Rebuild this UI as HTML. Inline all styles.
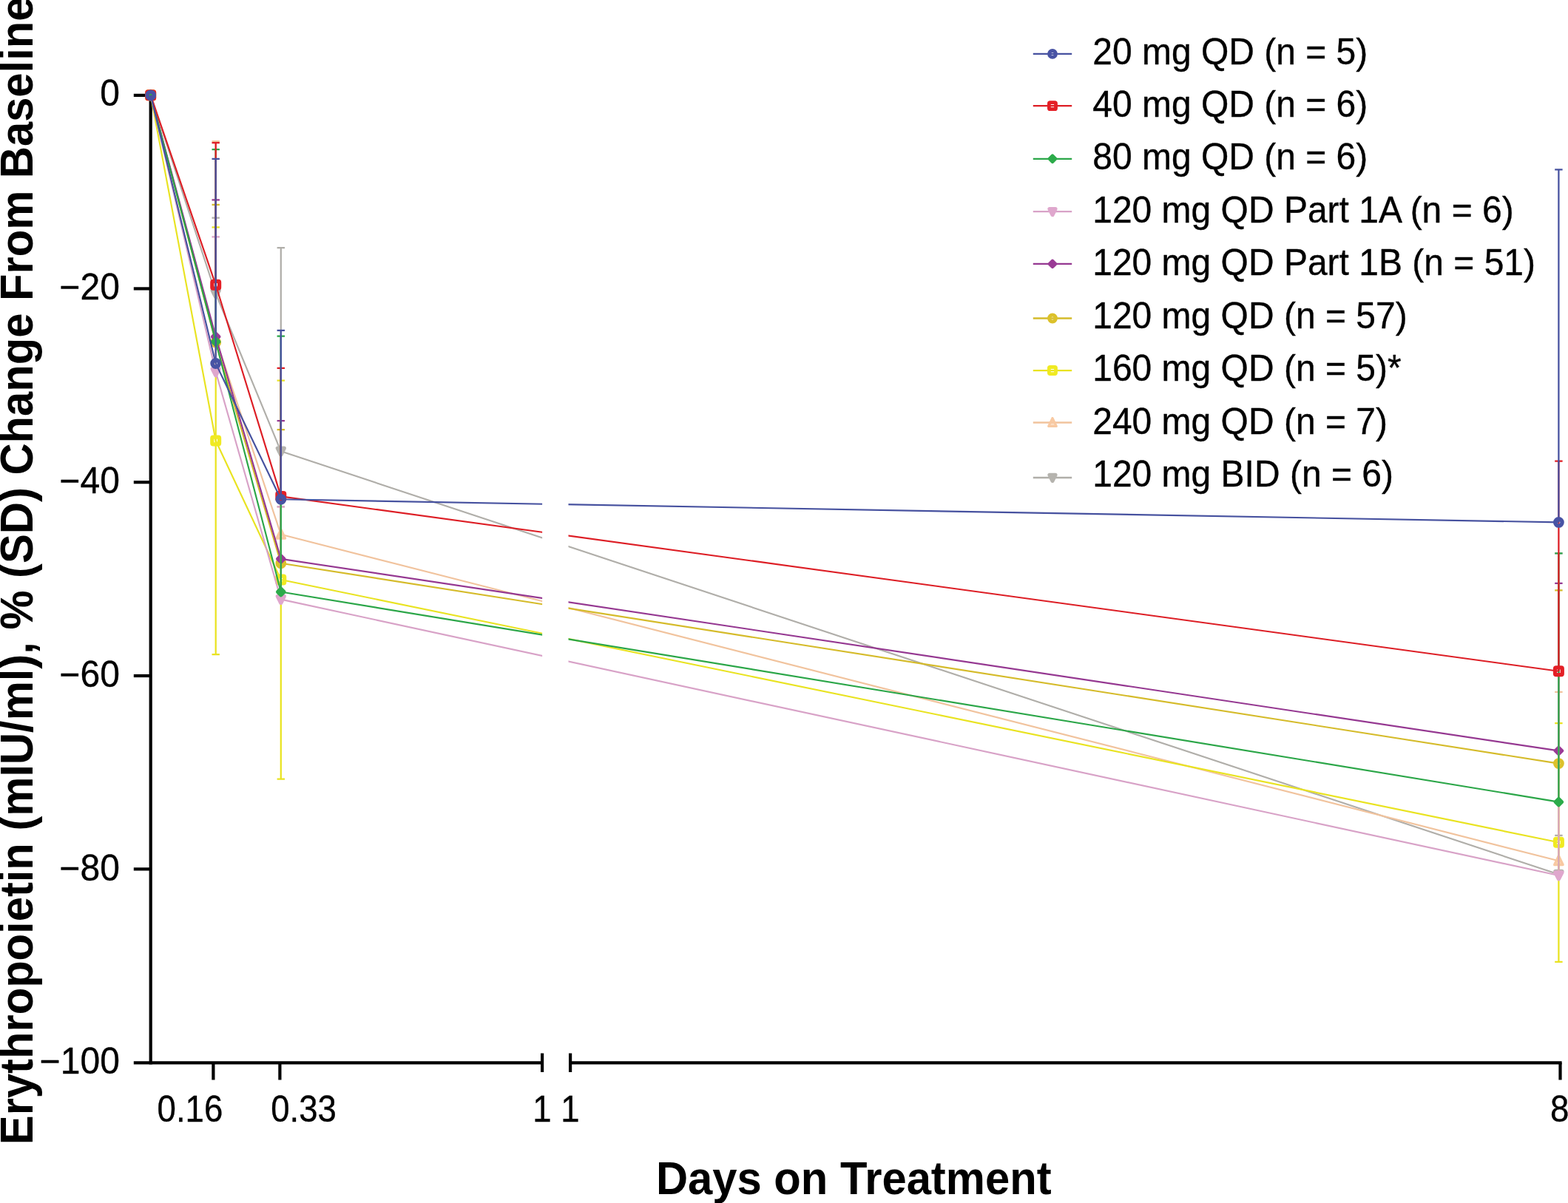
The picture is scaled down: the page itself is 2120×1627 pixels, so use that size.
<!DOCTYPE html>
<html lang="en"><head><meta charset="utf-8"><title>Erythropoietin % change from baseline by days on treatment</title>
<style>html,body{margin:0;padding:0;background:#fff}body{width:2120px;height:1627px;overflow:hidden}svg{display:block}text{font-family:"Liberation Sans",sans-serif;fill:#000}.t{font-size:48px;stroke:#000;stroke-width:.35px;stroke-linejoin:round}.b{font-size:60px;font-weight:bold}</style>
</head><body>
<svg xmlns="http://www.w3.org/2000/svg" width="2120" height="1627" viewBox="0 0 2120 1627">
<rect width="2120" height="1627" fill="#fff"/>
<g stroke="#000" stroke-width="4.2" fill="none">
<path d="M203.7 126.7V1439.4"/>
<path d="M180.8 128.9H203.7"/>
<path d="M180.8 390.4H203.7"/>
<path d="M180.8 652.2H203.7"/>
<path d="M180.8 914H203.7"/>
<path d="M180.8 1175.4H203.7"/>
<path d="M180.8 1437.3H733.1M771.1 1437.3H2111.6"/>
<path d="M288.4 1437.3V1460.5M378.4 1437.3V1460.5M2109.5 1437.3V1460.5"/>
<path d="M733.1 1424.4V1449.9M771.1 1424.4V1449.9"/>
</g>
<g fill="none" stroke-linecap="butt">
<g stroke="#b0aea9" stroke-width="2.15"><path d="M203.7 128.8L291.7 397L379.8 610.3L2107.4 1182.5" stroke-linejoin="round"/><path d="M291.7 294.7V397M286.5 294.7H296.9" stroke-width="2.25"/><path d="M379.8 335.1V610.3M374.6 335.1H385" stroke-width="2.25"/><path d="M2107.4 1129.8V1182.5M2102.2 1129.8H2112.6" stroke-width="2.25"/></g><path d="M199.4 124.8L208 124.8L203.7 133.4Z" fill="#b5b3ae" stroke="#b5b3ae" stroke-width="5.6" stroke-linejoin="round"/><path d="M287.4 393L296 393L291.7 401.6Z" fill="#b5b3ae" stroke="#b5b3ae" stroke-width="5.6" stroke-linejoin="round"/><path d="M375.5 606.3L384.1 606.3L379.8 614.9Z" fill="#b5b3ae" stroke="#b5b3ae" stroke-width="5.6" stroke-linejoin="round"/><path d="M2103.1 1178.5L2111.7 1178.5L2107.4 1187.1Z" fill="#b5b3ae" stroke="#b5b3ae" stroke-width="5.6" stroke-linejoin="round"/>
<g stroke="#f1c39d" stroke-width="2.15"><path d="M203.7 128.8L291.7 458L379.8 722.8L2107.4 1164.3" stroke-linejoin="round"/><path d="M291.7 191.2V458M286.5 191.2H296.9" stroke-width="2.25"/><path d="M379.8 685.3V722.8M374.6 685.3H385" stroke-width="2.25"/><path d="M2107.4 935.8V1164.3M2102.2 935.8H2112.6" stroke-width="2.25"/></g><path d="M198.1 134L209.3 134L203.7 122.4Z" fill="#f8c9a2" fill-opacity="0.6" stroke="#f8c9a2" stroke-width="3.6" stroke-linejoin="round"/><path d="M286.1 463.2L297.3 463.2L291.7 451.6Z" fill="#f8c9a2" fill-opacity="0.6" stroke="#f8c9a2" stroke-width="3.6" stroke-linejoin="round"/><path d="M374.2 728L385.4 728L379.8 716.4Z" fill="#f8c9a2" fill-opacity="0.6" stroke="#f8c9a2" stroke-width="3.6" stroke-linejoin="round"/><path d="M2101.8 1169.5L2113 1169.5L2107.4 1157.9Z" fill="#f8c9a2" fill-opacity="0.6" stroke="#f8c9a2" stroke-width="3.6" stroke-linejoin="round"/>
<g stroke="#e9e321" stroke-width="2.15"><path d="M203.7 128.8L291.7 596L379.8 784L2107.4 1139.3" stroke-linejoin="round"/><path d="M291.7 307.4V885M286.5 307.4H296.9M286.5 885H296.9" stroke-width="2.25"/><path d="M379.8 514.7V1053.5M374.6 514.7H385M374.6 1053.5H385" stroke-width="2.25"/><path d="M2107.4 978V1300.8M2102.2 978H2112.6M2102.2 1300.8H2112.6" stroke-width="2.25"/></g><rect x="198.8" y="123.9" width="9.8" height="9.8" rx="1.4" fill="none" stroke="#f0ea22" stroke-width="5.2" stroke-linejoin="round"/><rect x="286.8" y="591.1" width="9.8" height="9.8" rx="1.4" fill="none" stroke="#f0ea22" stroke-width="5.2" stroke-linejoin="round"/><rect x="374.9" y="779.1" width="9.8" height="9.8" rx="1.4" fill="none" stroke="#f0ea22" stroke-width="5.2" stroke-linejoin="round"/><rect x="2102.5" y="1134.4" width="9.8" height="9.8" rx="1.4" fill="none" stroke="#f0ea22" stroke-width="5.2" stroke-linejoin="round"/>
<g stroke="#d5bb2a" stroke-width="2.15"><path d="M203.7 128.8L291.7 463L379.8 761.8L2107.4 1032.6" stroke-linejoin="round"/><path d="M291.7 276.9V463M286.5 276.9H296.9" stroke-width="2.25"/><path d="M379.8 581V761.8M374.6 581H385" stroke-width="2.25"/><path d="M2107.4 798.3V1032.6M2102.2 798.3H2112.6" stroke-width="2.25"/></g><circle cx="203.7" cy="128.8" r="4.7" fill="none" stroke="#dcc12b" stroke-width="5.4"/><circle cx="291.7" cy="463" r="4.7" fill="none" stroke="#dcc12b" stroke-width="5.4"/><circle cx="379.8" cy="761.8" r="4.7" fill="none" stroke="#dcc12b" stroke-width="5.4"/><circle cx="2107.4" cy="1032.6" r="4.7" fill="none" stroke="#dcc12b" stroke-width="5.4"/>
<g stroke="#953891" stroke-width="2.15"><path d="M203.7 128.8L291.7 455.3L379.8 755.9L2107.4 1015.4" stroke-linejoin="round"/><path d="M291.7 270.4V455.3M286.5 270.4H296.9" stroke-width="2.25"/><path d="M379.8 569.1V755.9M374.6 569.1H385" stroke-width="2.25"/><path d="M2107.4 788.9V1015.4M2102.2 788.9H2112.6" stroke-width="2.25"/></g><path d="M203.7 124.3L208.2 128.8L203.7 133.3L199.2 128.8Z" fill="#9a3a95" stroke="#9a3a95" stroke-width="4.6" stroke-linejoin="round"/><path d="M291.7 450.8L296.2 455.3L291.7 459.8L287.2 455.3Z" fill="#9a3a95" stroke="#9a3a95" stroke-width="4.6" stroke-linejoin="round"/><path d="M379.8 751.4L384.3 755.9L379.8 760.4L375.3 755.9Z" fill="#9a3a95" stroke="#9a3a95" stroke-width="4.6" stroke-linejoin="round"/><path d="M2107.4 1010.9L2111.9 1015.4L2107.4 1019.9L2102.9 1015.4Z" fill="#9a3a95" stroke="#9a3a95" stroke-width="4.6" stroke-linejoin="round"/>
<g stroke="#d8a2c7" stroke-width="2.15"><path d="M203.7 128.8L291.7 502.9L379.8 810.6L2107.4 1184" stroke-linejoin="round"/><path d="M291.7 320.4V502.9M286.5 320.4H296.9" stroke-width="2.25"/><path d="M379.8 685.3V810.6M374.6 685.3H385" stroke-width="2.25"/><path d="M2107.4 748.3V1184M2102.2 748.3H2112.6" stroke-width="2.25"/></g><path d="M199.4 124.8L208 124.8L203.7 133.4Z" fill="#dfa7cd" stroke="#dfa7cd" stroke-width="5.6" stroke-linejoin="round"/><path d="M287.4 498.9L296 498.9L291.7 507.5Z" fill="#dfa7cd" stroke="#dfa7cd" stroke-width="5.6" stroke-linejoin="round"/><path d="M375.5 806.6L384.1 806.6L379.8 815.2Z" fill="#dfa7cd" stroke="#dfa7cd" stroke-width="5.6" stroke-linejoin="round"/><path d="M2103.1 1180L2111.7 1180L2107.4 1188.6Z" fill="#dfa7cd" stroke="#dfa7cd" stroke-width="5.6" stroke-linejoin="round"/>
<g stroke="#2ba648" stroke-width="2.15"><path d="M203.7 128.8L291.7 462.1L379.8 800.5L2107.4 1084.6" stroke-linejoin="round"/><path d="M291.7 202.1V462.1M286.5 202.1H296.9" stroke-width="2.25"/><path d="M379.8 454.7V800.5M374.6 454.7H385" stroke-width="2.25"/><path d="M2107.4 748.3V1084.6M2102.2 748.3H2112.6" stroke-width="2.25"/></g><path d="M203.7 124.3L208.2 128.8L203.7 133.3L199.2 128.8Z" fill="#2cab4a" stroke="#2cab4a" stroke-width="4.6" stroke-linejoin="round"/><path d="M291.7 457.6L296.2 462.1L291.7 466.6L287.2 462.1Z" fill="#2cab4a" stroke="#2cab4a" stroke-width="4.6" stroke-linejoin="round"/><path d="M379.8 796L384.3 800.5L379.8 805L375.3 800.5Z" fill="#2cab4a" stroke="#2cab4a" stroke-width="4.6" stroke-linejoin="round"/><path d="M2107.4 1080.1L2111.9 1084.6L2107.4 1089.1L2102.9 1084.6Z" fill="#2cab4a" stroke="#2cab4a" stroke-width="4.6" stroke-linejoin="round"/>
<g stroke="#dd1e25" stroke-width="2.15"><path d="M203.7 128.8L291.7 385.3L379.8 671.4L2107.4 907.8" stroke-linejoin="round"/><path d="M291.7 193.1V385.3M286.5 193.1H296.9" stroke-width="2.25"/><path d="M379.8 497.8V671.4M374.6 497.8H385" stroke-width="2.25"/><path d="M2107.4 623.5V907.8M2102.2 623.5H2112.6" stroke-width="2.25"/></g><rect x="198.8" y="123.9" width="9.8" height="9.8" rx="1.4" fill="none" stroke="#e41f26" stroke-width="5.2" stroke-linejoin="round"/><rect x="286.8" y="380.4" width="9.8" height="9.8" rx="1.4" fill="none" stroke="#e41f26" stroke-width="5.2" stroke-linejoin="round"/><rect x="374.9" y="666.5" width="9.8" height="9.8" rx="1.4" fill="none" stroke="#e41f26" stroke-width="5.2" stroke-linejoin="round"/><rect x="2102.5" y="902.9" width="9.8" height="9.8" rx="1.4" fill="none" stroke="#e41f26" stroke-width="5.2" stroke-linejoin="round"/>
<g stroke="#46519f" stroke-width="2.15"><path d="M203.7 128.8L291.7 491.5L379.8 675.3L2107.4 706.4" stroke-linejoin="round"/><path d="M291.7 214.9V491.5M286.5 214.9H296.9" stroke-width="2.25"/><path d="M379.8 446.8V675.3M374.6 446.8H385" stroke-width="2.25"/><path d="M2107.4 229.3V706.4M2102.2 229.3H2112.6" stroke-width="2.25"/></g><circle cx="203.7" cy="128.8" r="4.7" fill="none" stroke="#4853a4" stroke-width="5.4"/><circle cx="291.7" cy="491.5" r="4.7" fill="none" stroke="#4853a4" stroke-width="5.4"/><circle cx="379.8" cy="675.3" r="4.7" fill="none" stroke="#4853a4" stroke-width="5.4"/><circle cx="2107.4" cy="706.4" r="4.7" fill="none" stroke="#4853a4" stroke-width="5.4"/>
</g>
<rect x="733.1" y="600" width="35.4" height="400" fill="#fff"/>
<text class="t" text-anchor="end" transform="translate(161.9 143.45) scale(1.0 1.027)">0</text>
<text class="t" text-anchor="end" transform="translate(161.9 404.8) scale(1.0 1.027)">−20</text>
<text class="t" text-anchor="end" transform="translate(161.9 666.7) scale(1.0 1.027)">−40</text>
<text class="t" text-anchor="end" transform="translate(161.9 929.15) scale(1.0 1.027)">−60</text>
<text class="t" text-anchor="end" transform="translate(161.9 1190.7) scale(1.0 1.027)">−80</text>
<text class="t" text-anchor="end" transform="translate(161.9 1452.2) scale(1.0 1.027)">−100</text>
<text class="t" text-anchor="middle" transform="translate(256.9 1516.9) scale(0.95 1.04)">0.16</text>
<text class="t" text-anchor="middle" transform="translate(410.5 1516.9) scale(0.95 1.04)">0.33</text>
<text class="t" text-anchor="middle" transform="translate(733 1516.9) scale(0.95 1.04)">1</text>
<text class="t" text-anchor="middle" transform="translate(771 1516.9) scale(0.95 1.04)">1</text>
<text class="t" text-anchor="middle" transform="translate(2108.6 1516.9) scale(0.95 1.04)">8</text>
<text class="b" text-anchor="middle" transform="translate(1154.2 1614.5) scale(0.996 1.034)">Days on Treatment</text>
<text class="b" transform="translate(44.3 1548.2) rotate(-90) scale(0.9955 1.035)">Erythropoietin (mIU/ml), % (SD) Change From Baseline</text>
<path d="M1396.8 72.9H1449.2" stroke="#46519f" stroke-width="2.3" fill="none"/><circle cx="1423" cy="72.9" r="4.4" fill="none" stroke="#4853a4" stroke-width="5"/>
<text class="t" transform="translate(1477.2 86.65) scale(1.0 1.043)">20 mg QD (n = 5)</text>
<path d="M1396.8 143.2H1449.2" stroke="#dd1e25" stroke-width="2.3" fill="none"/><rect x="1418.4" y="138.6" width="9.1" height="9.1" rx="1.3" fill="none" stroke="#e41f26" stroke-width="4.8" stroke-linejoin="round"/>
<text class="t" transform="translate(1477.2 158.06) scale(1.0 1.043)">40 mg QD (n = 6)</text>
<path d="M1396.8 214.8H1449.2" stroke="#2ba648" stroke-width="2.3" fill="none"/><path d="M1423 210.6L1427.2 214.8L1423 219L1418.8 214.8Z" fill="#2cab4a" stroke="#2cab4a" stroke-width="4.3" stroke-linejoin="round"/>
<text class="t" transform="translate(1477.2 229.47) scale(1.0 1.043)">80 mg QD (n = 6)</text>
<path d="M1396.8 286.2H1449.2" stroke="#d8a2c7" stroke-width="2.3" fill="none"/><path d="M1419 282.5L1427 282.5L1423 290.5Z" fill="#dfa7cd" stroke="#dfa7cd" stroke-width="5.2" stroke-linejoin="round"/>
<text class="t" transform="translate(1477.2 300.88) scale(1.0 1.043)">120 mg QD Part 1A (n = 6)</text>
<path d="M1396.8 356.9H1449.2" stroke="#953891" stroke-width="2.3" fill="none"/><path d="M1423 352.7L1427.2 356.9L1423 361L1418.8 356.9Z" fill="#9a3a95" stroke="#9a3a95" stroke-width="4.3" stroke-linejoin="round"/>
<text class="t" transform="translate(1477.2 372.29) scale(1.0 1.043)">120 mg QD Part 1B (n = 51)</text>
<path d="M1396.8 430.5H1449.2" stroke="#d5bb2a" stroke-width="2.3" fill="none"/><circle cx="1423" cy="430.5" r="4.4" fill="none" stroke="#dcc12b" stroke-width="5"/>
<text class="t" transform="translate(1477.2 443.7) scale(1.0 1.043)">120 mg QD (n = 57)</text>
<path d="M1396.8 501.1H1449.2" stroke="#e9e321" stroke-width="2.3" fill="none"/><rect x="1418.4" y="496.5" width="9.1" height="9.1" rx="1.3" fill="none" stroke="#f0ea22" stroke-width="4.8" stroke-linejoin="round"/>
<text class="t" transform="translate(1477.2 515.11) scale(1.0 1.043)">160 mg QD (n = 5)*</text>
<path d="M1396.8 571.5H1449.2" stroke="#f1c39d" stroke-width="2.3" fill="none"/><path d="M1417.8 576.4L1428.2 576.4L1423 565.6Z" fill="#f8c9a2" fill-opacity="0.6" stroke="#f8c9a2" stroke-width="3.3" stroke-linejoin="round"/>
<text class="t" transform="translate(1477.2 586.52) scale(1.0 1.043)">240 mg QD (n = 7)</text>
<path d="M1396.8 646H1449.2" stroke="#b0aea9" stroke-width="2.3" fill="none"/><path d="M1419 642.3L1427 642.3L1423 650.3Z" fill="#b5b3ae" stroke="#b5b3ae" stroke-width="5.2" stroke-linejoin="round"/>
<text class="t" transform="translate(1477.2 657.93) scale(1.0 1.043)">120 mg BID (n = 6)</text>
</svg></body></html>
